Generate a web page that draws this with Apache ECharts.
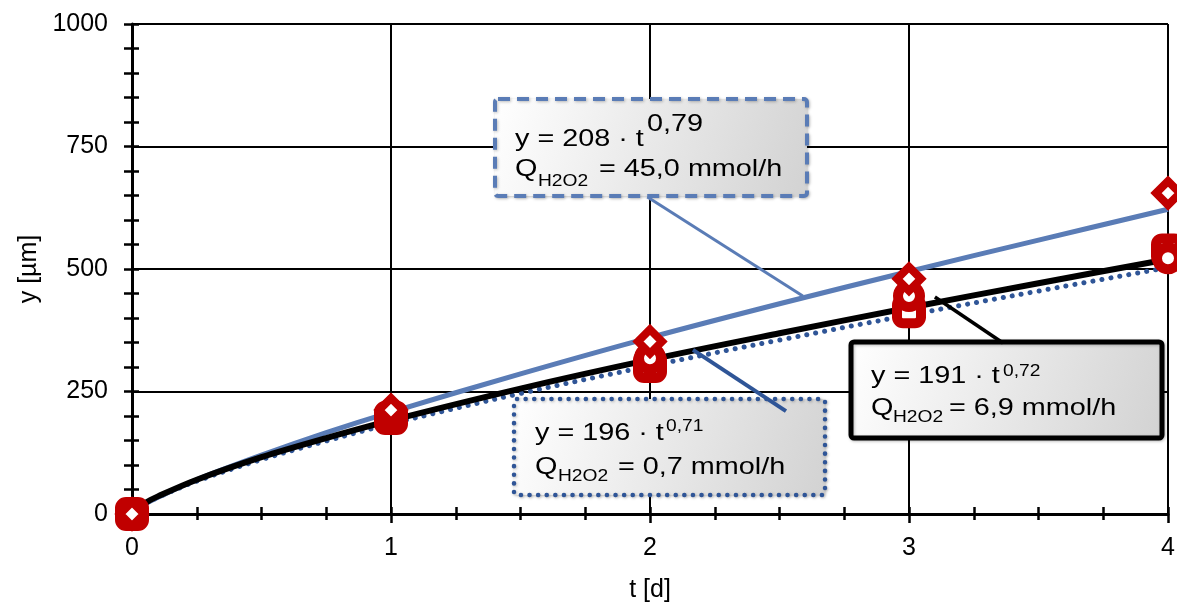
<!DOCTYPE html>
<html><head><meta charset="utf-8">
<script src="https://cdn.jsdelivr.net/npm/echarts@6/dist/echarts.min.js"></script>
<style>html,body{margin:0;padding:0;background:#fff;overflow:hidden}#c{width:1177px;height:602px}</style>
</head><body><div id="c"></div>
<script>
// ---- data ----
const tMarks = [0, 1, 2, 3, 4];
const ySquare07 = [0, 196, 302, 414, 538];
const yCircle69 = [0, 203, 318, 445, 522];
const yDiamond45 = [0, 212, 352, 480, 655];

const tFit = [0, 0.05, 0.1, 0.25, 0.5, 0.75, 1, 1.5, 2, 2.5, 3, 3.5, 4];
const fit45 = [0, 20, 34, 70, 120, 166, 208, 286, 360, 429, 495, 559, 622];
const fit69 = [0, 22, 36, 70, 116, 155, 191, 256, 315, 369, 421, 471, 520];
const fit07 = [0, 20, 34, 67, 111, 149, 184, 246, 302, 355, 406, 455, 503];

const leader45 = [[1.99, 647], [2.59, 445]];
const leader07 = [[2.166, 335], [2.525, 210]];
const leader69 = [[3.10, 443], [3.363, 349]];

const xTicks = [0, 1, 2, 3, 4];
const yTicks = [0, 250, 500, 750, 1000];

const RED = '#c00000', BLUE = '#5a7cb6', DBLUE = '#2f5597';
const FONT = "'Liberation Sans', Arial, sans-serif";

function pairs(xs, ys) { return xs.map((x, i) => [x, ys[i]]); }

// ---- annotation boxes (pixel layout) ----
function frag(str, left, baseline, size) {
  return { type: 'text', x: left, y: baseline - 0.34 * size, scaleX: 1.2, z: 50,
    style: { text: str, font: size + 'px ' + FONT, fill: '#000', align: 'left', verticalAlign: 'middle' } };
}
function box(x, y, w, h, stroke, dash, width, cap) {
  return { type: 'rect', z: 40, shape: { x: x, y: y, width: w, height: h, r: 3 },
    style: { fill: new echarts.graphic.LinearGradient(0, 0, 1, 1, [{ offset: 0, color: '#ffffff' }, { offset: 1, color: '#d2d2d2' }]),
      stroke: stroke, lineWidth: width, lineDash: dash, lineCap: cap || 'butt',
      shadowBlur: 3, shadowColor: 'rgba(0,0,0,0.25)', shadowOffsetX: 1, shadowOffsetY: 1 } };
}
const graphics = [
  box(495, 99, 312, 97, BLUE, [12, 7], 4),
  frag('y = 208 · t', 515, 148, 24), frag('0,79', 647, 133, 24),
  frag('Q', 515, 178, 24), frag('H2O2', 538, 187, 16), frag('= 45,0 mmol/h', 599, 178, 24),

  box(514, 399, 311, 96, DBLUE, [0.1, 8.5], 4.5, 'round'),
  frag('y = 196 · t', 535, 442, 24), frag('0,71', 666, 432, 16),
  frag('Q', 535, 476, 24), frag('H2O2', 558, 482, 16), frag('= 0,7 mmol/h', 618, 476, 24),

  box(851, 342, 311, 96, '#000', null, 5),
  frag('y = 191 · t', 871, 385, 24), frag('0,72', 1003, 377, 16),
  frag('Q', 871, 417, 24), frag('H2O2', 893, 423, 16), frag('= 6,9 mmol/h', 949, 417, 24)
];

const chart = echarts.init(document.getElementById('c'), null, { renderer: 'canvas', width: 1177, height: 602 });
const lbl = { color: '#000', fontSize: 25, fontFamily: FONT };
const tickStyle = { color: '#000', width: 2.5 };
const option = {
  animation: false,
  backgroundColor: '#fff',
  grid: { left: 132, right: 9, top: 24, bottom: 88, containLabel: false, outerBoundsMode: 'none' },
  xAxis: [{
    type: 'value', min: xTicks[0], max: xTicks[xTicks.length - 1], interval: 1,
    name: 't [d]', nameLocation: 'middle', nameGap: 64, nameTextStyle: lbl,
    axisLine: { show: true, onZero: false, lineStyle: { color: '#000', width: 3 } },
    axisTick: { show: true, length: 9, lineStyle: tickStyle },
    minorTick: { show: true, splitNumber: 4, length: 6, lineStyle: tickStyle },
    axisLabel: Object.assign({ margin: 22, formatter: v => String(v) }, lbl),
    splitLine: { show: true, lineStyle: { color: '#000', width: 2 } }
  }, {
    type: 'value', min: xTicks[0], max: xTicks[xTicks.length - 1], interval: 1, position: 'bottom',
    axisLine: { show: false }, axisLabel: { show: false }, splitLine: { show: false },
    axisTick: { show: true, inside: true, length: 7, lineStyle: tickStyle },
    minorTick: { show: true, splitNumber: 4, length: 7, lineStyle: tickStyle }
  }],
  yAxis: [{
    type: 'value', min: yTicks[0], max: yTicks[yTicks.length - 1], interval: 250,
    name: 'y [µm]', nameLocation: 'middle', nameGap: 90, nameTextStyle: lbl,
    axisLine: { show: true, onZero: false, lineStyle: { color: '#000', width: 3 } },
    axisTick: { show: true, length: 8, lineStyle: tickStyle },
    minorTick: { show: true, splitNumber: 5, length: 8, lineStyle: tickStyle },
    axisLabel: Object.assign({ margin: 24, formatter: v => String(v) }, lbl),
    splitLine: { show: true, lineStyle: { color: '#000', width: 2 } }
  }, {
    type: 'value', min: yTicks[0], max: yTicks[yTicks.length - 1], interval: 250, position: 'left',
    axisLine: { show: false }, axisLabel: { show: false }, splitLine: { show: false },
    axisTick: { show: true, inside: true, length: 7, lineStyle: tickStyle },
    minorTick: { show: true, splitNumber: 5, length: 7, lineStyle: tickStyle }
  }],
  graphic: { elements: graphics },
  series: [
    { type: 'line', name: 'fit 0,7', data: pairs(tFit, fit07), smooth: 0.35, symbol: 'none', z: 3,
      lineStyle: { color: DBLUE, width: 5, type: [0.1, 9], cap: 'round' } },
    { type: 'line', name: 'fit 45,0', data: pairs(tFit, fit45), smooth: 0.35, symbol: 'none', z: 4,
      lineStyle: { color: BLUE, width: 5 } },
    { type: 'line', name: 'fit 6,9', data: pairs(tFit, fit69), smooth: 0.35, symbol: 'none', z: 5,
      lineStyle: { color: '#000', width: 6 } },
    { type: 'line', data: leader45, symbol: 'none', z: 60, lineStyle: { color: BLUE, width: 3 } },
    { type: 'line', data: leader07, symbol: 'none', z: 60, lineStyle: { color: DBLUE, width: 4 } },
    { type: 'line', data: leader69, symbol: 'none', z: 60, lineStyle: { color: '#000', width: 3.5 } },
    { type: 'scatter', name: '0,7', data: pairs(tMarks, ySquare07), symbol: 'roundRect', symbolSize: 24, z: 70,
      itemStyle: { color: '#fff', borderColor: RED, borderWidth: 10, opacity: 1 } },
    { type: 'scatter', name: '6,9', data: pairs(tMarks, yCircle69), symbol: 'circle', symbolSize: 22, z: 71,
      itemStyle: { color: '#fff', borderColor: RED, borderWidth: 10, opacity: 1 } },
    { type: 'scatter', name: '45,0', data: pairs(tMarks, yDiamond45), symbol: 'diamond', symbolSize: 24, z: 72,
      itemStyle: { color: '#fff', borderColor: RED, borderWidth: 8, opacity: 1 } }
  ]
};
chart.setOption(option);
</script></body></html>
